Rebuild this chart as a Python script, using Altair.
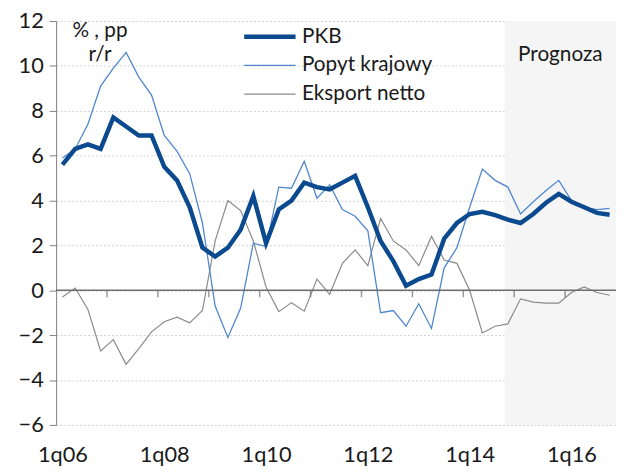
import altair as alt
import pandas as pd

quarters = [f"{q}q{y:02d}" for y in range(6, 17) for q in range(1, 5)]

pkb = [5.6, 6.3, 6.5, 6.3, 7.7, 7.3, 6.9, 6.9, 5.5, 4.9, 3.7, 1.9,
       1.5, 1.9, 2.7, 4.2, 2.1, 3.6, 4.0, 4.8, 4.6, 4.5, 4.8, 5.1,
       3.7, 2.2, 1.3, 0.2, 0.5, 0.7, 2.3, 3.0, 3.4, 3.5, 3.35, 3.15,
       3.0, 3.4, 3.9, 4.3, 3.95, 3.7, 3.45, 3.37]
popyt = [5.9, 6.3, 7.4, 9.1, 9.9, 10.6, 9.5, 8.7, 6.9, 6.2, 5.2, 3.0,
         -0.7, -2.1, -0.8, 2.1, 1.95, 4.6, 4.55, 5.75, 4.1, 4.7, 3.6, 3.3,
         2.65, -1.0, -0.9, -1.6, -0.6, -1.7, 1.0, 1.9, 3.7, 5.4, 4.9, 4.6,
         3.4, 3.95, 4.45, 4.9, 4.0, 3.7, 3.6, 3.65]
eksport = [-0.3, 0.1, -0.85, -2.7, -2.2, -3.3, -2.6, -1.85, -1.4, -1.2, -1.45, -0.9,
           2.2, 4.0, 3.55, 2.2, 0.15, -0.95, -0.55, -0.93, 0.5, -0.18, 1.2, 1.8,
           1.1, 3.2, 2.2, 1.8, 1.1, 2.4, 1.35, 1.2, 0.0, -1.9, -1.6, -1.5,
           -0.38, -0.53, -0.57, -0.57, -0.1, 0.15, -0.1, -0.22]

series_names = ["PKB", "Popyt krajowy", "Eksport netto"]
series_colors = ["#0b4a8e", "#4f86cf", "#8a8a8a"]
series_widths = [4.5, 1.3, 1.2]

y_ticks = list(range(-6, 13, 2))
label_idx = [0, 8, 16, 24, 32, 40]
year_ticks = [4 * k - 0.5 for k in range(1, 11)]

forecast_label = "Prognoza"
forecast_start = 34.75
forecast_end = len(quarters) - 0.5
forecast_label_y = 10.5

W, H = 567, 409
ymin, ymax = -6, 12
FONT = "Lato"
TXT = "#1a1a1a"
AXIS_GRAY = "#6e6e6e"

rows = []
for name, vals in [("Eksport netto", eksport), ("Popyt krajowy", popyt), ("PKB", pkb)]:
    for i, v in enumerate(vals):
        rows.append({"idx": i, "q": quarters[i], "series": name, "value": v})
df = pd.DataFrame(rows)

xdom = [-0.5, len(quarters) - 0.5]
xscale = alt.Scale(domain=xdom, nice=False, zero=False)
yscale = alt.Scale(domain=[ymin, ymax], nice=False)

label_expr = "[" + ",".join(f"'{q}'" for q in quarters) + "][datum.value]"

band = alt.Chart(pd.DataFrame({"s": [forecast_start], "e": [forecast_end]})).mark_rect(
    color="#f5f5f5"
).encode(
    x=alt.X("s:Q", scale=xscale, axis=None),
    x2="e:Q",
)

zero_line = alt.Chart(pd.DataFrame({"z": [0]})).mark_rule(
    color=AXIS_GRAY, strokeWidth=1.5
).encode(y=alt.Y("z:Q", scale=yscale, axis=None))

year_tick_marks = alt.Chart(pd.DataFrame({"t": year_ticks, "z": [0] * len(year_ticks)})).mark_tick(
    orient="vertical", size=7, thickness=1.5, color=AXIS_GRAY, yOffset=3.5
).encode(
    x=alt.X("t:Q", scale=xscale, axis=None),
    y=alt.Y("z:Q", scale=yscale, axis=None),
)

# legend symbol: a 52px horizontal stroke drawn with a small nominal symbol size
legend = alt.Legend(orient="none", legendX=206, legendY=5.5, symbolType="M-5.2,0H5.2",
                    symbolSize=100, labelFont=FONT, labelFontSize=21, labelColor=TXT,
                    labelOffset=22, title=None, rowPadding=7)

lines = alt.Chart(df).mark_line().encode(
    x=alt.X("idx:Q", scale=xscale, axis=alt.Axis(
        values=label_idx, labelExpr=label_expr, orient="bottom", ticks=False, domain=False,
        grid=False, labelPadding=20, labelFont=FONT, labelFontSize=22, labelColor=TXT,
        title=None)),
    y=alt.Y("value:Q", scale=yscale, axis=alt.Axis(
        values=y_ticks, grid=True, gridDash=[2, 2], gridColor="#cfcfcf",
        domainColor="#808080", tickColor="#808080", tickSize=7,
        labelFont=FONT, labelFontSize=22, labelColor=TXT, labelPadding=6,
        title=["% , pp", "r/r"], titleAngle=0, titleX=44, titleY=-1,
        titleAlign="center", titleBaseline="top", titleFont=FONT, titleFontSize=21,
        titleFontWeight="normal", titleColor=TXT, titleLineHeight=24)),
    color=alt.Color("series:N", scale=alt.Scale(domain=series_names, range=series_colors),
                    legend=legend),
    strokeWidth=alt.StrokeWidth("series:N", scale=alt.Scale(type="ordinal", domain=series_names,
                                                            range=series_widths),
                                legend=legend),
    detail="series:N",
)

ann = alt.Chart(pd.DataFrame({"x": [(forecast_start + forecast_end) / 2],
                              "y": [forecast_label_y], "t": [forecast_label]})).mark_text(
    font=FONT, fontSize=21, color=TXT, baseline="middle", align="center"
).encode(
    x=alt.X("x:Q", scale=xscale, axis=None),
    y=alt.Y("y:Q", scale=yscale, axis=None),
    text="t:N",
)

chart = alt.layer(band, lines, zero_line, year_tick_marks, ann).resolve_axis(
    x="independent", y="independent"
).properties(
    width=W, height=H,
    autosize=alt.AutoSizeParams(type="none"),
    padding={"left": 48.7, "top": 10.3, "right": 0, "bottom": 40},
).configure_view(stroke=None)

chart.save("out.html", embed_options={"renderer": "svg", "actions": False})
